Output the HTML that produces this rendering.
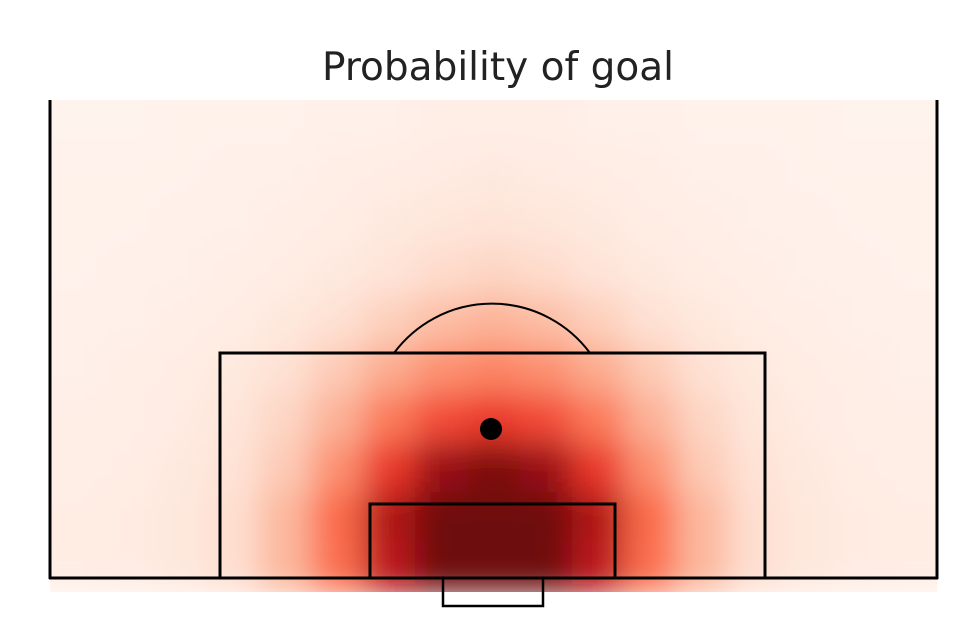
<!DOCTYPE html>
<html><head><meta charset="utf-8"><style>
body{margin:0;background:#fff;width:963px;height:625px;overflow:hidden}
svg{display:block}
</style></head><body>
<svg id="chart" width="963" height="625">
<defs>
<filter id="blur" x="-10%" y="-10%" width="120%" height="120%"><feGaussianBlur stdDeviation="16"/></filter>
<clipPath id="clip"><rect x="50" y="100" width="887" height="492"/></clipPath>
</defs>
<text x="498" y="80" text-anchor="middle" font-family="DejaVu Sans, Liberation Sans, sans-serif" font-size="39" fill="#222">Probability of goal</text>
<g clip-path="url(#clip)"><g id="heat" filter="url(#blur)"></g></g>
<g fill="none" stroke="#000" stroke-width="3">
<line x1="50" y1="100" x2="50" y2="579"/>
<line x1="937" y1="100" x2="937" y2="579"/>
<line x1="49" y1="578" x2="938" y2="578"/>
<rect x="220" y="353" width="545" height="225"/>
<rect x="370" y="504" width="245" height="74"/>
<rect x="443" y="578" width="100" height="28" stroke-width="2.5"/>
<path d="M394,353 A122,122 0 0 1 590,353" stroke-width="2"/>
</g>
<circle cx="491" cy="429" r="11" fill="#000"/>
</svg>
<script>
const row0 = [0.01,0.01,0.02,0.02,0.02,0.03,0.03,0.04,0.04,0.04,0.03,0.03,0.02,0.02,0.02,0.01,0.01];
const row1 = [0.02,0.02,0.02,0.03,0.03,0.04,0.05,0.06,0.07,0.06,0.05,0.04,0.03,0.03,0.02,0.02,0.02];
const row2 = [0.02,0.02,0.03,0.03,0.04,0.05,0.07,0.09,0.1,0.09,0.07,0.05,0.04,0.03,0.03,0.02,0.02];
const row3 = [0.02,0.03,0.03,0.04,0.05,0.07,0.1,0.14,0.16,0.14,0.1,0.07,0.05,0.04,0.03,0.03,0.02];
const row4 = [0.03,0.03,0.04,0.05,0.08,0.12,0.18,0.24,0.27,0.24,0.18,0.12,0.08,0.05,0.04,0.03,0.03];
const row5 = [0.03,0.04,0.05,0.07,0.12,0.2,0.3,0.38,0.42,0.38,0.3,0.2,0.12,0.07,0.05,0.04,0.03];
const row6 = [0.04,0.04,0.06,0.09,0.16,0.28,0.45,0.58,0.64,0.58,0.45,0.28,0.16,0.09,0.06,0.04,0.04];
const row7 = [0.04,0.05,0.07,0.11,0.2,0.38,0.64,0.9,0.97,0.9,0.64,0.38,0.2,0.11,0.07,0.05,0.04];
const row8 = [0.05,0.06,0.08,0.13,0.26,0.5,0.84,1.0,1.0,1.0,0.84,0.5,0.26,0.13,0.08,0.06,0.05];
const row9 = [0.05,0.06,0.08,0.13,0.26,0.48,0.8,1.0,1.0,1.0,0.8,0.48,0.26,0.13,0.08,0.06,0.05];
const grid = [row0,row1,row2,row3,row4,row5,row6,row7,row8,row9];
const x0=50,x1=937,y0=100,y1=590,nc=17,nr=10;
const cw=(x1-x0)/nc,ch=(y1-y0)/nr;
const xs=c=>x0+c*cw, ys=r=>y0+r*ch;
const stops=[[0,[255,245,240]],[0.125,[254,224,210]],[0.25,[252,187,161]],[0.375,[252,146,114]],[0.5,[251,106,74]],[0.625,[239,59,44]],[0.75,[203,24,29]],[0.875,[165,15,21]],[1,[110,16,16]]];
function color(v){v=Math.max(0,Math.min(1,v));for(let i=1;i<stops.length;i++){if(v<=stops[i][0]){const a=stops[i-1],b=stops[i],t=(v-a[0])/(b[0]-a[0]);return 'rgb('+a[1].map((c,k)=>Math.round(c+(b[1][k]-c)*t)).join(',')+')';}}return 'rgb(110,16,16)';}
const g=document.getElementById('heat');const NS='http://www.w3.org/2000/svg';
grid.forEach((row,r)=>row.forEach((v,c)=>{
  const el=document.createElementNS(NS,'rect');
  let x=xs(c),y=ys(r),w=cw+0.5,h=ch+0.5;
  if(c===0){x-=40;w+=40;} if(c===nc-1){w+=40;}
  if(r===0){y-=40;h+=40;} if(r===nr-1){h+=4;}
  el.setAttribute('x',x);el.setAttribute('y',y);el.setAttribute('width',w);el.setAttribute('height',h);
  el.setAttribute('fill',color(v));
  
  
  g.appendChild(el);
}));
</script>
</body></html>
